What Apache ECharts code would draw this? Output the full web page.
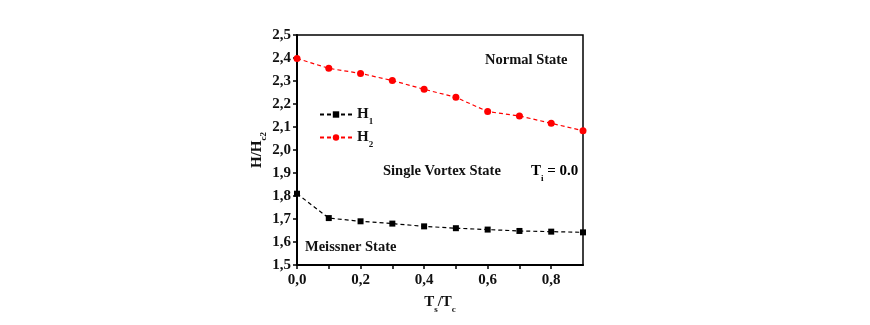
<!DOCTYPE html>
<html><head><meta charset="utf-8">
<script src="https://cdn.jsdelivr.net/npm/echarts@6/dist/echarts.min.js"></script>
<style>html,body{margin:0;padding:0;background:#fff}#c{width:870px;height:325px}</style>
</head><body><div id="c"></div>
<script>
const xValues = [0.0, 0.1, 0.2, 0.3, 0.4, 0.5, 0.6, 0.7, 0.8, 0.9];
const h1Values = [1.810, 1.704, 1.690, 1.680, 1.668, 1.660, 1.654, 1.648, 1.645, 1.642];
const h2Values = [2.398, 2.355, 2.333, 2.302, 2.264, 2.229, 2.167, 2.148, 2.116, 2.084];
const xTickLabels = ['0,0', '0,2', '0,4', '0,6', '0,8'];
const yTickLabels = ['1,5','1,6','1,7','1,8','1,9','2,0','2,1','2,2','2,3','2,4','2,5'];

const FONT = '"Liberation Serif", "Times New Roman", serif';
const chart = echarts.init(document.getElementById('c'), null, {renderer: 'canvas'});
const rich = {
  b: {fontFamily: FONT, fontWeight: 'bold', fontSize: 15, color: '#111', verticalAlign: 'top', lineHeight: 15},
  s: {fontFamily: FONT, fontWeight: 'bold', fontSize: 9, color: '#111', verticalAlign: 'top', lineHeight: 9, padding: [10, 0, 0, 0]}
};
function xLabel(v) {
  const i = Math.round(v * 10);
  if (i % 2 !== 0) return '';
  return xTickLabels[i / 2] || '';
}
function yLabel(v) {
  const i = Math.round((v - 1.5) * 10);
  return yTickLabels[i] || '';
}
chart.setOption({
  animation: false,
  grid: {left: 297, right: 287, top: 35, bottom: 60, show: true, borderColor: '#000', borderWidth: 1.5},
  legend: {
    left: 314, top: 102, orient: 'vertical', itemGap: 4, itemWidth: 32, itemHeight: 8,
    data: ['H1', 'H2'],
    formatter: n => n === 'H1' ? '{b|H}{s|1}' : '{b|H}{s|2}',
    textStyle: {rich: rich}
  },
  xAxis: {
    type: 'value', min: 0, max: 0.9, interval: 0.1,
    axisLine: {show: true, onZero: false, lineStyle: {color: '#000', width: 2}},
    axisTick: {show: true, inside: false, length: 4, lineStyle: {color: '#000', width: 1.5}},
    splitLine: {show: false},
    axisLabel: {formatter: xLabel, fontFamily: FONT, fontWeight: 'bold', fontSize: 15, color: '#111', margin: 8, showMaxLabel: false},
    name: '{b|T}{s|s}{b|/T}{s|c}', nameLocation: 'middle', nameGap: 30,
    nameTextStyle: {rich: rich}
  },
  yAxis: {
    type: 'value', min: 1.5, max: 2.5, interval: 0.1,
    axisLine: {show: true, onZero: false, lineStyle: {color: '#000', width: 2}},
    axisTick: {show: true, inside: false, length: 4, lineStyle: {color: '#000', width: 1.5}},
    splitLine: {show: false},
    axisLabel: {formatter: yLabel, fontFamily: FONT, fontWeight: 'bold', fontSize: 15, color: '#111', margin: 6},
    name: '{b|H/H}{s|c2}', nameLocation: 'middle', nameGap: 30, nameRotate: 90,
    nameTextStyle: {rich: rich}
  },
  series: [
    {name: 'H1', type: 'line', data: xValues.map((x, i) => [x, h1Values[i]]),
     symbol: 'rect', symbolSize: 6, color: '#000',
     lineStyle: {color: '#000', width: 1.2, type: [4, 3]}, itemStyle: {color: '#000'}},
    {name: 'H2', type: 'line', data: xValues.map((x, i) => [x, h2Values[i]]),
     symbol: 'circle', symbolSize: 7, color: '#ff0000',
     lineStyle: {color: '#ff0000', width: 1.2, type: [4, 3]}, itemStyle: {color: '#ff0000'}}
  ],
  graphic: [
    {type: 'text', left: 485, top: 53, style: {text: 'Normal State', font: 'bold 14.5px ' + FONT, fill: '#111'}},
    {type: 'text', left: 383, top: 164, style: {text: 'Single Vortex State', font: 'bold 14.5px ' + FONT, fill: '#111'}},
    {type: 'text', left: 531, top: 164, style: {text: '{b|T}{s|i}{b| = 0.0}', rich: rich}},
    {type: 'text', left: 305, top: 240, style: {text: 'Meissner State', font: 'bold 14.5px ' + FONT, fill: '#111'}}
  ]
});
</script></body></html>
